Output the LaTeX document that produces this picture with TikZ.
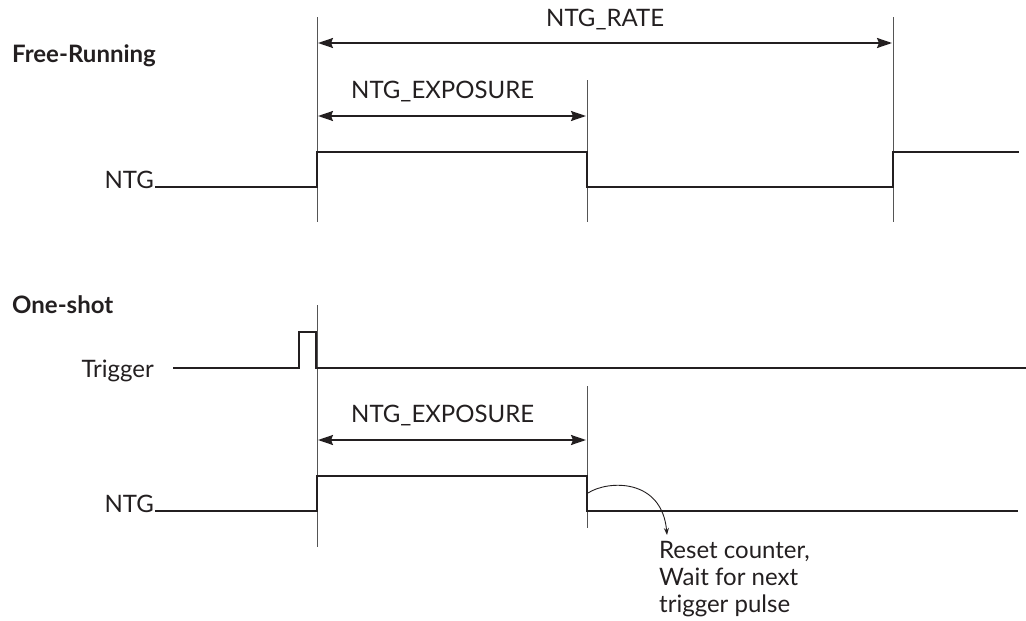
\documentclass[tikz,border=0pt]{standalone}
\usepackage{fontspec}
\setmainfont{Lato}
\usetikzlibrary{arrows.meta}
\definecolor{ink}{HTML}{231F20}
\definecolor{guide}{HTML}{555555}
\begin{document}
\begin{tikzpicture}[x=1pt,y=-1pt,
  lbl/.style={anchor=base west,inner sep=0pt,text=ink,font=\fontsize{24}{27}\selectfont},
  ttl/.style={lbl,font=\fontsize{24}{27}\selectfont\bfseries},
  sig/.style={draw=ink,line width=2pt,line join=miter},
  guideline/.style={draw=guide,line width=0.9pt},
  dim/.style={draw=ink,line width=1.8pt,{Stealth[length=15pt,width=10pt,inset=2pt]}-{Stealth[length=15pt,width=10pt,inset=2pt]}},
  note/.style={draw=ink,line width=0.9pt,-{Stealth[length=7pt,width=5pt]}}]
\useasboundingbox (0,0) rectangle (1026,621);
% ---------- Free-Running ----------
\node[ttl] (fr) at (12,62) {Free-Running};
\node[lbl,anchor=base east] (ntg1) at (154,188) {NTG};
\coordinate (a1) at (317,17);  \coordinate (a2) at (317,222);
\coordinate (b1) at (587,80);  \coordinate (b2) at (587,222);
\coordinate (c1) at (893,17);  \coordinate (c2) at (893,222);
\draw[guideline] (a1) -- (a2);
\draw[guideline] (b1) -- (b2);
\draw[guideline] (c1) -- (c2);
\draw[sig] (155,187) -- (317,187) -- (317,152) -- (587,152) -- (587,187) -- (893,187) -- (893,152) -- (1019,152);
\coordinate (r1) at (318,43); \coordinate (r2) at (892,43);
\draw[dim] (r1) -- (r2);
\node[lbl] (rate) at (546,26) {NTG\_RATE};
\coordinate (e1) at (318,116); \coordinate (e2) at (586,116);
\draw[dim] (e1) -- (e2);
\node[lbl] (exp1) at (351,98) {NTG\_EXPOSURE};
% ---------- One-shot ----------
\node[ttl] (os) at (12,313) {One-shot};
\node[lbl,anchor=base east] (trg) at (154,377) {Trigger};
\node[lbl,anchor=base east] (ntg2) at (154,512) {NTG};
\coordinate (d1) at (317,305); \coordinate (d2) at (317,547);
\coordinate (f1) at (587,386); \coordinate (f2) at (587,528);
\draw[guideline] (d1) -- (d2);
\draw[guideline] (f1) -- (f2);
\draw[sig] (173,368) -- (299,368) -- (299,332) -- (316,332) -- (316,368) -- (1026,368);
\draw[sig] (155,511) -- (317,511) -- (317,476) -- (587,476) -- (587,511) -- (1018,511);
\coordinate (g1) at (318,440); \coordinate (g2) at (586,440);
\draw[dim] (g1) -- (g2);
\node[lbl] (exp2) at (351,422) {NTG\_EXPOSURE};
\coordinate (k1) at (588,493); \coordinate (k2) at (667,535);
\draw[note] (k1) .. controls (608,480) and (662,478) .. (k2);
\node[lbl,align=left,anchor=north west] (rst) at (659,541) {Reset counter,\\Wait for next\\trigger pulse};
\end{tikzpicture}
\end{document}
